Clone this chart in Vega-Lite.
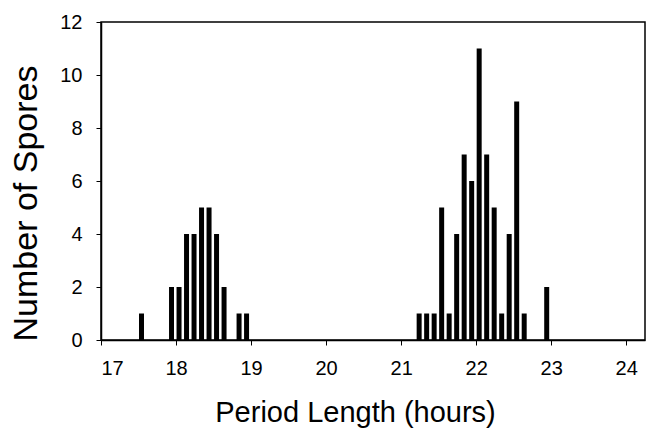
{
  "$schema": "https://vega.github.io/schema/vega-lite/v6.json",
  "width": 544,
  "height": 318,
  "autosize": {"type": "none"},
  "padding": {"left": 101, "top": 22, "right": 14, "bottom": 90},
  "background": "white",
  "config": {
    "view": {"stroke": "black", "strokeWidth": 1.5},
    "font": "Liberation Sans",
    "axis": {
      "grid": false,
      "domainColor": "black",
      "domainWidth": 1.5,
      "tickColor": "black",
      "tickWidth": 1,
      "tickSize": 5,
      "labelColor": "black",
      "titleColor": "black",
      "labelFont": "Liberation Sans",
      "titleFont": "Liberation Sans",
      "labelFontSize": 20,
      "titleFontWeight": "normal"
    }
  },
  "data": {
    "values": [
      {"period": 17.5, "count": 1},
      {"period": 17.9, "count": 2},
      {"period": 18.0, "count": 2},
      {"period": 18.1, "count": 4},
      {"period": 18.2, "count": 4},
      {"period": 18.3, "count": 5},
      {"period": 18.4, "count": 5},
      {"period": 18.5, "count": 4},
      {"period": 18.6, "count": 2},
      {"period": 18.8, "count": 1},
      {"period": 18.9, "count": 1},
      {"period": 21.2, "count": 1},
      {"period": 21.3, "count": 1},
      {"period": 21.4, "count": 1},
      {"period": 21.5, "count": 5},
      {"period": 21.6, "count": 1},
      {"period": 21.7, "count": 4},
      {"period": 21.8, "count": 7},
      {"period": 21.9, "count": 6},
      {"period": 22.0, "count": 11},
      {"period": 22.1, "count": 7},
      {"period": 22.2, "count": 5},
      {"period": 22.3, "count": 1},
      {"period": 22.4, "count": 4},
      {"period": 22.5, "count": 9},
      {"period": 22.6, "count": 1},
      {"period": 22.9, "count": 2}
    ]
  },
  "mark": {"type": "bar", "color": "black", "size": 5, "xOffset": 3},
  "encoding": {
    "x": {
      "field": "period",
      "type": "quantitative",
      "scale": {"domain": [17, 24.25], "nice": false, "zero": false, "padding": 0},
      "axis": {
        "values": [17, 18, 19, 20, 21, 22, 23, 24],
        "format": "d",
        "labelPadding": 13,
        "title": "Period Length (hours)",
        "titleFontSize": 29,
        "titleAnchor": "start",
        "titleX": 254,
        "titleY": 81,
        "titleAlign": "center",
        "titleBaseline": "alphabetic"
      }
    },
    "y": {
      "field": "count",
      "type": "quantitative",
      "scale": {"domain": [0, 12], "nice": false},
      "axis": {
        "values": [0, 2, 4, 6, 8, 10, 12],
        "labelPadding": 14,
        "title": "Number of Spores",
        "titleFontSize": 34,
        "titleX": -65,
        "titleY": 181,
        "titleAngle": -90,
        "titleAlign": "center",
        "titleBaseline": "alphabetic"
      }
    }
  }
}
